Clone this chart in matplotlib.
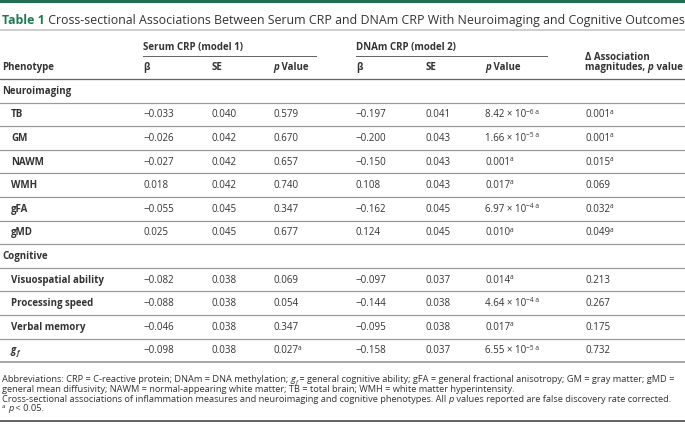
import math
import matplotlib
matplotlib.use("Agg")
import matplotlib.pyplot as plt
from matplotlib.lines import Line2D
from matplotlib import font_manager

# ---------------- data ----------------
title_label = "Table 1"
title_text = "Cross-sectional Associations Between Serum CRP and DNAm CRP With Neuroimaging and Cognitive Outcomes"
group_headers = ["Serum CRP (model 1)", "DNAm CRP (model 2)"]
sections = ["Neuroimaging", "Cognitive"]
phenotypes_neuro = ["TB", "GM", "NAWM", "WMH", "gFA", "gMD"]
phenotypes_cog = ["Visuospatial ability", "Processing speed", "Verbal memory", "gf"]
serum_beta = [-0.033, -0.026, -0.027, 0.018, -0.055, 0.025, -0.082, -0.088, -0.046, -0.098]
serum_se = [0.040, 0.042, 0.042, 0.042, 0.045, 0.045, 0.038, 0.038, 0.038, 0.038]
serum_p = [0.579, 0.670, 0.657, 0.740, 0.347, 0.677, 0.069, 0.054, 0.347, 0.027]
dnam_beta = [-0.197, -0.200, -0.150, 0.108, -0.162, 0.124, -0.097, -0.144, -0.095, -0.158]
dnam_se = [0.041, 0.043, 0.043, 0.043, 0.045, 0.045, 0.037, 0.038, 0.038, 0.037]
dnam_p = [8.42e-6, 1.66e-5, 0.001, 0.017, 6.97e-4, 0.010, 0.014, 4.64e-4, 0.017, 6.55e-5]
delta_p = [0.001, 0.001, 0.015, 0.069, 0.032, 0.049, 0.213, 0.267, 0.175, 0.732]
alpha = 0.05

# ---------------- style ----------------
W, H, DPI = 685, 430, 100
FONT = ["Open Sans", "DejaVu Sans"]
_names = {f.name for f in font_manager.fontManager.ttflist}
FOOT_FONT = ["Liberation Sans Narrow"] + FONT if "Liberation Sans Narrow" in _names else FONT
TXT = "#333333"
GREEN = "#1f6f50"
GREEN_T = "#1f7a52"
BODY = 7.0

fig = plt.figure(figsize=(W / DPI, H / DPI), dpi=DPI)
fig.patch.set_facecolor("white")
R = fig.canvas.get_renderer()


def _txt(x, y, s, size, weight="normal", style="normal", color=TXT, family=None):
    return fig.text(x / W, 1 - y / H, s, fontsize=size, fontweight=weight,
                    fontstyle=style, color=color, family=family or FONT,
                    ha="left", va="baseline")


def width_of(s, size, weight="normal", style="normal", family=None):
    t = _txt(0, 0, "|" + s + "|", size, weight, style, family=family)
    w1 = t.get_window_extent(R).width
    t.remove()
    t = _txt(0, 0, "||", size, weight, style, family=family)
    w0 = t.get_window_extent(R).width
    t.remove()
    return w1 - w0


def runs(x, y, parts, size, color=TXT, family=None):
    """parts: list of (text, flags) ; flags may contain b, i, sup, sub"""
    for s, fl in parts:
        fl = fl.split()
        weight = "bold" if "b" in fl else "normal"
        style = "italic" if "i" in fl else "normal"
        sz, dy = size, 0
        if "sup" in fl:
            sz, dy = size * 0.68, -size * 0.55
        if "sub" in fl:
            sz, dy = size * 0.68, size * 0.28
        if s.strip():
            _txt(x, y + dy, s, sz, weight, style, color, family)
        x += width_of(s, sz, weight, style, family)
    return x


def hline(y, x0=0, x1=W, color="#999999", lw_px=1.2):
    fig.add_artist(Line2D([x0 / W, x1 / W], [1 - y / H, 1 - y / H],
                          color=color, lw=lw_px * 0.72, transform=fig.transFigure))


def fmt(v):
    return f"{v:.3f}".replace("-", "\u2212")


def fmt_p(p):
    """returns run list"""
    sig = p < alpha
    if p < 0.001:
        e = math.floor(math.log10(p))
        m = p / 10 ** e
        sup = "\u2212" + str(-e) + (" a" if sig else "")
        return [(f"{m:.2f} \u00d7 10", ""), (sup, "sup")]
    out = [(f"{p:.3f}", "")]
    if sig:
        out.append(("a", "sup"))
    return out


# ---------------- top bar & title ----------------
fig.add_artist(plt.Rectangle((0, 1 - 3 / H), 1, 3 / H, color=GREEN,
                             transform=fig.transFigure, lw=0))
tsize = 8.6
tw = width_of(title_label + " ", tsize, "bold") + width_of(title_text, tsize)
tsize *= (676 - 2) / tw
x = runs(2, 24, [(title_label, "b")], tsize, color=GREEN_T)
x = runs(x, 24, [(" " + title_text, "")], tsize)
hline(30, color="#c4c4c4", lw_px=1.6)

# ---------------- header ----------------
cols = [143, 212, 273, 356, 426, 485, 585]
hb = 3.0  # baseline offset from row centre
runs(cols[0], 47 + hb, [(group_headers[0], "b")], BODY)
runs(cols[3], 47 + hb, [(group_headers[1], "b")], BODY)
hline(56, 143, 316, color="#666666", lw_px=1.0)
hline(56, 356, 547, color="#666666", lw_px=1.0)
runs(cols[6], 57 + hb, [("\u0394 Association", "b")], BODY)
runs(cols[6], 67 + hb, [("magnitudes, ", "b"), ("p", "b i"), (" value", "b")], BODY)
runs(2, 67 + hb, [("Phenotype", "b")], BODY)
for c in (0, 3):
    runs(cols[c], 67 + hb, [("\u03b2", "b")], BODY)
    runs(cols[c + 1], 67 + hb, [("SE", "b")], BODY)
    runs(cols[c + 2], 67 + hb, [("p", "b i"), (" Value", "b")], BODY)
hline(79, color="#666666", lw_px=1.3)

# ---------------- body ----------------
pitch = 23.6
line_y = 79.0
labels = [sections[0]] + phenotypes_neuro + [sections[1]] + phenotypes_cog
idx = 0
for k, lab in enumerate(labels):
    yc = line_y + pitch / 2
    yb = yc + hb
    if lab in sections:
        runs(2, yb, [(lab, "b")], BODY)
    else:
        if lab == "gf":
            runs(11, yb, [("g", "b i"), ("f", "b i sub")], BODY)
        else:
            runs(11, yb, [(lab, "b")], BODY)
        i = idx
        runs(cols[0], yb, [(fmt(serum_beta[i]), "")], BODY)
        runs(cols[1], yb, [(fmt(serum_se[i]), "")], BODY)
        runs(cols[2], yb, fmt_p(serum_p[i]), BODY)
        runs(cols[3], yb, [(fmt(dnam_beta[i]), "")], BODY)
        runs(cols[4], yb, [(fmt(dnam_se[i]), "")], BODY)
        runs(cols[5], yb, fmt_p(dnam_p[i]), BODY)
        runs(cols[6], yb, fmt_p(delta_p[i]), BODY)
        idx += 1
    line_y += pitch
    last = k == len(labels) - 1
    hline(line_y, color="#a8a8a8" if last else "#999999", lw_px=2.0 if last else 1.2)

# ---------------- footnotes ----------------
foot = [
    [("Abbreviations: CRP = C-reactive protein; DNAm = DNA methylation; ", ""), ("g", "i"), ("f", "i sub"),
     (" = general cognitive ability; gFA = general fractional anisotropy; GM = gray matter; gMD =", "")],
    [("general mean diffusivity; NAWM = normal-appearing white matter; TB = total brain; WMH = white matter hyperintensity.", "")],
    [("Cross-sectional associations of inflammation measures and neuroimaging and cognitive phenotypes. All ", ""),
     ("p", "i"), (" values reported are false discovery rate corrected.", "")],
    [("a", "sup"), (" ", ""), ("p", "i"), (" < 0.05.", "")],
]
fsize = 7.0
w3 = sum(width_of(s, fsize, "normal", "italic" if "i" in f else "normal", FOOT_FONT) for s, f in foot[2])
fsize *= (682 - 2) / w3
fy = 379
for parts in foot:
    runs(2, fy + 3, parts, fsize, family=FOOT_FONT)
    fy += 9.8
hline(421, color="#333333", lw_px=1.5)

fig.savefig("out.png", dpi=DPI, facecolor="white")
